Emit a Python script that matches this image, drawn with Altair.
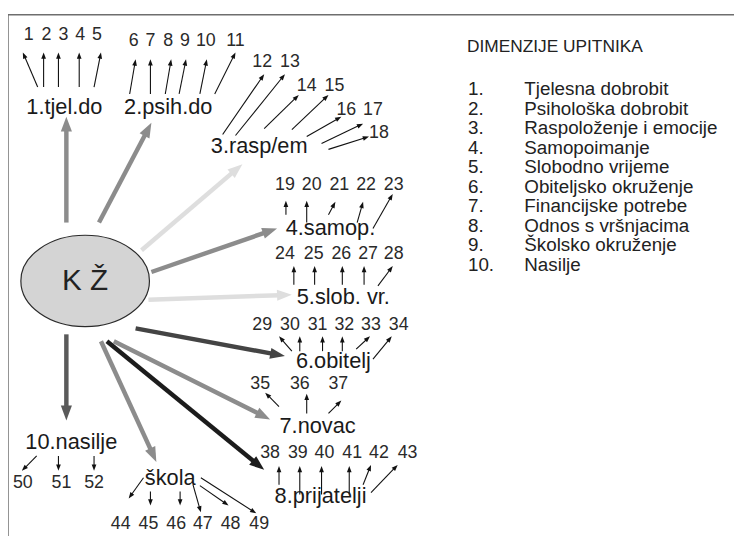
import altair as alt
import numpy as np
import pandas as pd

FONT = "Liberation Sans"

# ---------------- data ----------------
center_label = ["K Ž"]
center_x = [86]
center_y = [281]

dim_labels = ["1.tjel.do", "2.psih.do", "3.rasp/em", "4.samop.", "5.slob. vr.",
              "6.obitelj", "7.novac", "8.prijatelji", "škola", "10.nasilje"]
dim_x = [65, 170, 262, 334, 347, 337, 321, 324, 172, 72]
dim_y = [105, 105, 145, 228, 297, 362, 428, 499, 480, 444]

main_x1 = [67, 100, 143, 153, 150, 137, 115, 108, 102, 67]
main_y1 = [222, 222, 250, 272, 300, 329, 342, 342, 342, 335]
main_x2 = [67, 153, 245, 280, 295, 288, 273, 267, 158, 67]
main_y2 = [115, 121, 163, 228, 295, 357, 421, 472, 464, 422]
main_colors = ["#8c8c8c", "#8c8c8c", "#dedede", "#8c8c8c", "#dedede",
               "#444444", "#8c8c8c", "#1c1c1c", "#8c8c8c", "#5a5a5a"]

item_labels = [str(i) for i in range(1, 53)]
item_x = [29, 47, 64, 81, 98,
          135, 152, 170, 187, 208, 238,
          265, 293, 310, 338, 350, 377, 383,
          288, 315, 343, 370, 398,
          288, 317, 345, 372, 398,
          265, 293, 321, 348, 375, 403,
          263, 303, 342,
          273, 301, 328, 356, 383, 412,
          122, 150, 178, 205, 233, 262,
          23, 62, 95]
item_y = [32] * 5 + [38] * 6 + [60, 60, 84, 84, 108, 108, 132] + [184] * 5 + [254] * 5 \
    + [326] * 6 + [385] * 3 + [455] * 6 + [527] * 6 + [485] * 3

item_ax1 = [38, 44, 59, 80, 95,
            131, 152, 167, 181, 202, 217,
            225, 238, 267, 295, 310, 325, 332,
            289, 310, 332, 361, 377,
            297, 318, 346, 368, 382,
            295, 303, 326, 346, 360, 377,
            282, 310, 332,
            282, 303, 325, 353, 367, 375,
            145, 152, 182, 195, 202, 203,
            37, 59, 95]
item_ay1 = [85, 85, 85, 85, 85,
            92, 92, 92, 92, 92, 92,
            133, 134, 127, 128, 135, 142, 148,
            214, 222, 214, 222, 228,
            285, 285, 285, 285, 286,
            352, 352, 352, 352, 350, 360,
            408, 415, 415,
            487, 497, 497, 497, 487, 495,
            480, 494, 494, 487, 488, 480,
            458, 458, 458]
item_ax2 = [23, 44, 59, 80, 102,
            137, 152, 173, 188, 209, 238,
            267, 288, 302, 332, 345, 367, 373,
            289, 310, 339, 367, 397,
            297, 318, 346, 368, 397,
            282, 303, 326, 346, 374, 396,
            268, 310, 345,
            282, 303, 325, 353, 375, 402,
            130, 152, 182, 203, 231, 259,
            22, 59, 95]
item_ay2 = [50, 50, 50, 50, 50,
            57, 57, 57, 57, 57, 50,
            72, 72, 93, 93, 115, 122, 135,
            200, 200, 201, 201, 193,
            266, 266, 266, 266, 266,
            337, 337, 337, 337, 337, 337,
            394, 395, 402,
            468, 468, 468, 468, 467, 467,
            501, 508, 508, 515, 508, 516,
            473, 473, 473]

legend_title = ["DIMENZIJE UPITNIKA"]
legend_nums = ["1.", "2.", "3.", "4.", "5.", "6.", "7.", "8.", "9.", "10."]
legend_names = ["Tjelesna  dobrobit", "Psihološka dobrobit", "Raspoloženje i emocije",
                "Samopoimanje", "Slobodno vrijeme", "Obiteljsko okruženje",
                "Financijske potrebe", "Odnos s vršnjacima", "Školsko okruženje", "Nasilje"]
legend_y = [87, 106.75, 126.5, 146.25, 166, 185.75, 205.5, 225.25, 245, 264.75]

frame_x1 = [8, 8]
frame_y1 = [12, 12]
frame_x2 = [742, 8]
frame_y2 = [12, 539]

# ---------------- scales ----------------
W, H = 734, 531
XS = alt.Scale(domain=[8, 742], nice=False, zero=False)
YS = alt.Scale(domain=[539, 8], nice=False, zero=False)


def xe(f):
    return alt.X(f"{f}:Q", scale=XS, axis=None)


def ye(f):
    return alt.Y(f"{f}:Q", scale=YS, axis=None)


HEAD = "M0,0L-0.75,2L0.75,2Z"
ELLIPSE = ("M-1,0C-1,-0.392 -0.552,-0.71 0,-0.71C0.552,-0.71 1,-0.392 1,0"
           "C1,0.392 0.552,0.71 0,0.71C-0.552,0.71 -1,0.392 -1,0Z")


def arrows(x1, y1, x2, y2, colors, width, head_size, back):
    df = pd.DataFrame({"x1": x1, "y1": y1, "x2": x2, "y2": y2, "col": colors})
    dx = df.x2 - df.x1
    dy = df.y2 - df.y1
    L = np.hypot(dx, dy)
    df["sx"] = df.x2 - dx / L * back
    df["sy"] = df.y2 - dy / L * back
    df["ang"] = (np.degrees(np.arctan2(dx, -dy)) + 360) % 360
    shaft = alt.Chart(df).mark_rule(strokeWidth=width, strokeCap="butt").encode(
        x=xe("x1"), y=ye("y1"), x2=alt.X2("sx"), y2=alt.Y2("sy"),
        color=alt.Color("col:N", scale=None))
    head = alt.Chart(df).mark_point(shape=HEAD, filled=True, opacity=1).encode(
        x=xe("x2"), y=ye("y2"),
        angle=alt.Angle("ang:Q", scale=None),
        size=alt.value(head_size),
        color=alt.Color("col:N", scale=None))
    return [shaft, head]


frame = alt.Chart(pd.DataFrame({"x1": frame_x1, "y1": frame_y1, "x2": frame_x2, "y2": frame_y2})).mark_rule(
    color="#6e6e6e", strokeWidth=1.5).encode(x=xe("x1"), y=ye("y1"), x2=alt.X2("x2"), y2=alt.Y2("y2"))

ellipse = alt.Chart(pd.DataFrame({"x": center_x, "y": center_y})).mark_point(
    shape=ELLIPSE, filled=True, fill="#d4d4d4", stroke="#2a2a2a", strokeWidth=1.2, opacity=1,
    size=16900).encode(x=xe("x"), y=ye("y"))

center_text = alt.Chart(pd.DataFrame({"x": center_x, "y": center_y, "t": center_label})).mark_text(
    font=FONT, fontSize=30, color="#222222", align="center", baseline="middle").encode(
    x=xe("x"), y=ye("y"), text="t:N")

dim_text = alt.Chart(pd.DataFrame({"x": dim_x, "y": dim_y, "t": dim_labels})).mark_text(
    font=FONT, fontSize=22, color="#1a1a1a", align="center", baseline="middle").encode(
    x=xe("x"), y=ye("y"), text="t:N")

item_text = alt.Chart(pd.DataFrame({"x": item_x, "y": item_y, "t": item_labels})).mark_text(
    font=FONT, fontSize=18, color="#2a2a2a", align="center", baseline="middle").encode(
    x=xe("x"), y=ye("y"), text="t:N")

leg_title = alt.Chart(pd.DataFrame({"x": [472], "y": [45], "t": legend_title})).mark_text(
    font=FONT, fontSize=17.5, color="#222222", align="left", baseline="middle").encode(
    x=xe("x"), y=ye("y"), text="t:N")

leg_nums = alt.Chart(pd.DataFrame({"x": [473] * 10, "y": legend_y, "t": legend_nums})).mark_text(
    font=FONT, fontSize=19, color="#222222", align="left", baseline="middle").encode(
    x=xe("x"), y=ye("y"), text="t:N")

leg_names = alt.Chart(pd.DataFrame({"x": [530] * 10, "y": legend_y, "t": legend_names})).mark_text(
    font=FONT, fontSize=19, color="#222222", align="left", baseline="middle").encode(
    x=xe("x"), y=ye("y"), text="t:N")

layers = [frame]
layers += arrows(main_x1, main_y1, main_x2, main_y2, main_colors, 4.5, 225, 12)
layers += arrows(item_ax1, item_ay1, item_ax2, item_ay2, ["#111111"] * 52, 1.1, 40, 4)
layers += [ellipse, center_text, dim_text, item_text, leg_title, leg_nums, leg_names]

chart = alt.layer(*layers).properties(
    width=W, height=H, padding=0, autosize=alt.AutoSizeParams(type="none"),
    background="white"
).configure_view(stroke=None)

chart.save("out.html", embed_options={"renderer": "svg", "actions": False})
